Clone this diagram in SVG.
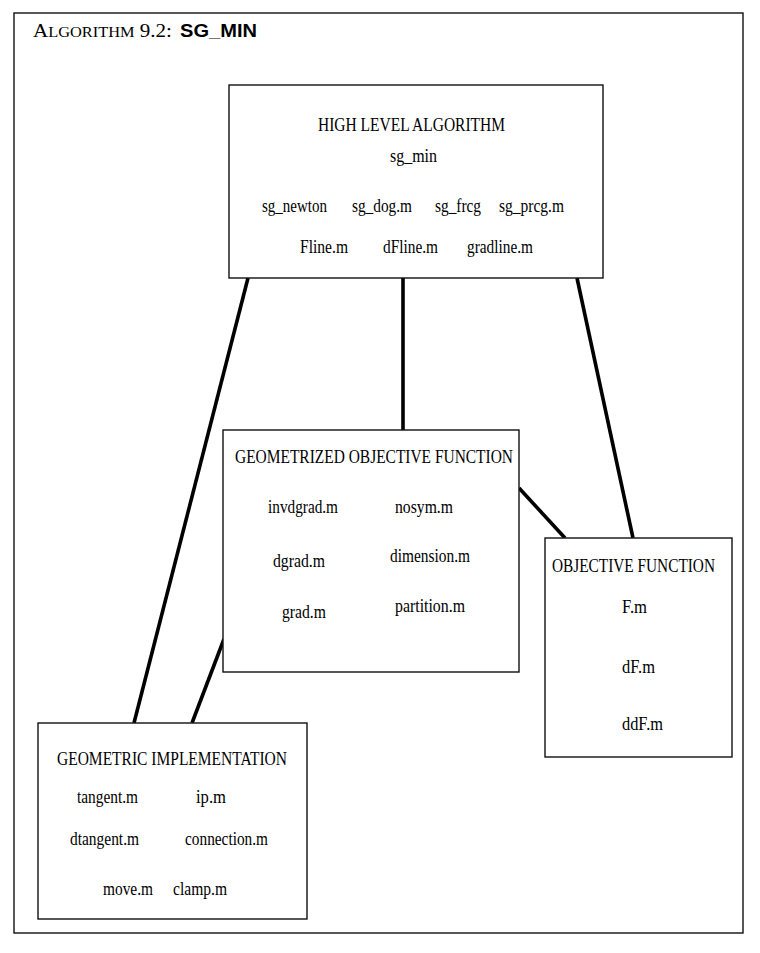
<svg xmlns="http://www.w3.org/2000/svg" width="760" height="953" viewBox="0 0 760 953">
<style>
.box{fill:#fff;stroke:#111;stroke-width:1.4}
.frame{fill:#fff;stroke:#111;stroke-width:1.4}
.conn{stroke:#000;stroke-width:3.6;fill:none;stroke-linecap:butt}
text{font-family:"Liberation Serif","Times New Roman",serif;font-size:19px;fill:#000}
.ttl{font-family:"Liberation Serif",serif;font-size:18px}
.sc{font-size:14px}
.sans{font-family:"Liberation Sans","DejaVu Sans",sans-serif;font-weight:bold;font-size:18px}
</style>
<rect class="frame" x="14" y="13" width="729" height="920"/>
<text x="33" y="37" class="ttl" textLength="139" lengthAdjust="spacingAndGlyphs">A<tspan class="sc">LGORITHM</tspan> 9.2:</text>
<text x="180" y="37" class="sans" textLength="77" lengthAdjust="spacingAndGlyphs">SG_MIN</text>
<g id="connectors">
<line class="conn" x1="248" y1="278" x2="134" y2="723"/>
<line class="conn" x1="403" y1="278" x2="403" y2="430"/>
<line class="conn" x1="577" y1="278" x2="633" y2="538"/>
<line class="conn" x1="519" y1="488" x2="565" y2="538"/>
<line class="conn" x1="224" y1="639" x2="192" y2="723"/>
</g>
<g id="high-level">
<rect class="box" x="229" y="85" width="374" height="193"/>
<text x="318" y="131" textLength="187" lengthAdjust="spacingAndGlyphs">HIGH LEVEL ALGORITHM</text>
<text x="390" y="162" textLength="47" lengthAdjust="spacingAndGlyphs">sg_min</text>
<text x="262" y="212" textLength="65" lengthAdjust="spacingAndGlyphs">sg_newton</text>
<text x="352" y="212" textLength="60" lengthAdjust="spacingAndGlyphs">sg_dog.m</text>
<text x="435" y="212" textLength="46" lengthAdjust="spacingAndGlyphs">sg_frcg</text>
<text x="499" y="212" textLength="65" lengthAdjust="spacingAndGlyphs">sg_prcg.m</text>
<text x="300" y="253" textLength="48" lengthAdjust="spacingAndGlyphs">Fline.m</text>
<text x="383" y="253" textLength="55" lengthAdjust="spacingAndGlyphs">dFline.m</text>
<text x="467" y="253" textLength="66" lengthAdjust="spacingAndGlyphs">gradline.m</text>
</g>
<g id="geometrized">
<rect class="box" x="223" y="430" width="296" height="242"/>
<text x="235" y="463" textLength="278" lengthAdjust="spacingAndGlyphs">GEOMETRIZED OBJECTIVE FUNCTION</text>
<text x="268" y="513" textLength="70" lengthAdjust="spacingAndGlyphs">invdgrad.m</text>
<text x="395" y="513" textLength="58" lengthAdjust="spacingAndGlyphs">nosym.m</text>
<text x="273" y="567" textLength="52" lengthAdjust="spacingAndGlyphs">dgrad.m</text>
<text x="390" y="562" textLength="80" lengthAdjust="spacingAndGlyphs">dimension.m</text>
<text x="282" y="618" textLength="44" lengthAdjust="spacingAndGlyphs">grad.m</text>
<text x="395" y="612" textLength="70" lengthAdjust="spacingAndGlyphs">partition.m</text>
</g>
<g id="objective">
<rect class="box" x="545" y="538" width="187" height="219"/>
<text x="552" y="572" textLength="163" lengthAdjust="spacingAndGlyphs">OBJECTIVE FUNCTION</text>
<text x="622" y="613" textLength="25" lengthAdjust="spacingAndGlyphs">F.m</text>
<text x="622" y="673" textLength="33" lengthAdjust="spacingAndGlyphs">dF.m</text>
<text x="622" y="730" textLength="41" lengthAdjust="spacingAndGlyphs">ddF.m</text>
</g>
<g id="geometric-impl">
<rect class="box" x="38" y="723" width="269" height="196"/>
<text x="57" y="765" textLength="230" lengthAdjust="spacingAndGlyphs">GEOMETRIC IMPLEMENTATION</text>
<text x="77" y="803" textLength="61" lengthAdjust="spacingAndGlyphs">tangent.m</text>
<text x="196" y="803" textLength="30" lengthAdjust="spacingAndGlyphs">ip.m</text>
<text x="70" y="845" textLength="69" lengthAdjust="spacingAndGlyphs">dtangent.m</text>
<text x="185" y="845" textLength="83" lengthAdjust="spacingAndGlyphs">connection.m</text>
<text x="103" y="895" textLength="50" lengthAdjust="spacingAndGlyphs">move.m</text>
<text x="173" y="895" textLength="54" lengthAdjust="spacingAndGlyphs">clamp.m</text>
</g>
</svg>
